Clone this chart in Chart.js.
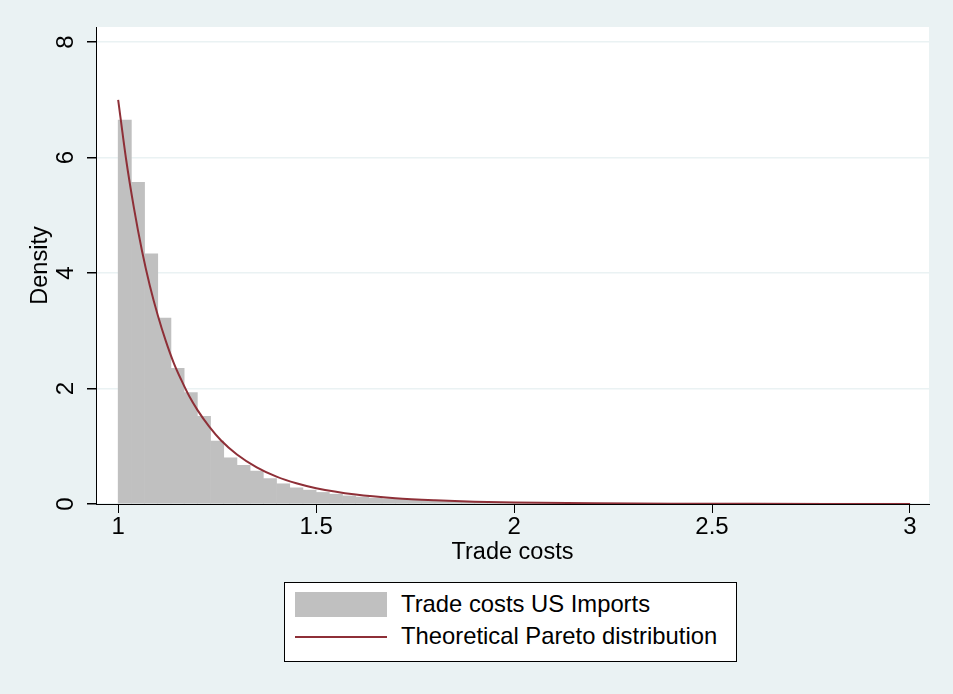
<!DOCTYPE html>
<html>
<head>
<meta charset="utf-8">
<script src="https://cdn.jsdelivr.net/npm/chart.js@4.4.1/dist/chart.umd.min.js"></script>
<style>
  html, body { margin: 0; padding: 0; background: #EAF2F3; overflow: hidden; }
  #wrap { position: relative; width: 953px; height: 694px; }
  canvas { position: absolute; left: 0; top: 0; }
  #legend { position: absolute; left: 284px; top: 582px; width: 451px; height: 78px;
            border: 1px solid #000; background: #fff;
            font-family: "Liberation Sans", Arial, Helvetica, sans-serif; font-size: 23.8px; color: #000; }
  .row { position: absolute; left: 0; height: 24px; line-height: 1; white-space: nowrap; }
  .sw { position: absolute; }
  .txt { position: absolute; left: 116px; top: 0; }
</style>
</head>
<body>
<div id="wrap">
  <canvas id="c" width="953" height="694"></canvas>
  <div id="legend"></div>
</div>
<script>
// ---- data ----
const binStart = 1.0;
const binWidth = 1 / 30;
const histDensity = [6.65, 5.57, 4.33, 3.22, 2.35, 1.93, 1.52, 1.09, 0.80, 0.67,
                     0.57, 0.44, 0.35, 0.28, 0.24, 0.20, 0.17, 0.14, 0.12, 0.10,
                     0.09, 0.08, 0.07, 0.06, 0.05, 0.045, 0.04, 0.035, 0.03, 0.027,
                     0.024, 0.021, 0.018, 0.016, 0.014, 0.012, 0.011, 0.010, 0.009, 0.008,
                     0.007, 0.006, 0.006, 0.005, 0.005, 0.004, 0.004, 0.003, 0.003, 0.003,
                     0.002, 0.002, 0.002, 0.002, 0.001, 0.001, 0.001, 0.001, 0.001, 0.001];
const curveX = [1.00, 1.02, 1.04, 1.06, 1.08, 1.10, 1.12, 1.14, 1.16, 1.18, 1.20, 1.23, 1.26, 1.30,
                1.35, 1.40, 1.45, 1.50, 1.60, 1.70, 1.80, 1.90, 2.00, 2.20, 2.40, 2.60, 2.80, 3.00];
const curveY = [7.00, 5.97, 5.12, 4.39, 3.78, 3.27, 2.83, 2.45, 2.14, 1.86, 1.63, 1.34, 1.10, 0.858,
                0.635, 0.474, 0.358, 0.273, 0.163, 0.100, 0.064, 0.041, 0.027, 0.013, 0.0064, 0.0034, 0.0019, 0.0011];
const xTicks = [1, 1.5, 2, 2.5, 3];
const yTicks = [0, 2, 4, 6, 8];
const seriesLabels = ['Trade costs US Imports', 'Theoretical Pareto distribution'];
const xTitle = 'Trade costs';
const yTitle = 'Density';

// ---- build ----
const histPoints = histDensity.map((v, i) => ({ x: binStart + (i + 0.5) * binWidth, y: v }));
const curvePoints = curveX.map((x, i) => ({ x: x, y: curveY[i] }));

const BG = '#EAF2F3';
const BAR = '#C0C0C0';
const LINE = '#8E2F37';
const FONT = '"Liberation Sans", Arial, Helvetica, sans-serif';

const stataPlugin = {
  id: 'stata',
  beforeDraw(chart) {
    const { ctx, chartArea: a } = chart;
    ctx.save();
    ctx.fillStyle = BG;
    ctx.fillRect(0, 0, chart.width, chart.height);
    ctx.fillStyle = '#fff';
    ctx.fillRect(a.left, a.top, a.right - a.left, a.bottom - a.top);
    ctx.restore();
  },
  afterDraw(chart) {
    const { ctx } = chart;
    const s = chart.scales.y;
    ctx.save();
    ctx.fillStyle = '#000';
    ctx.font = '24px ' + FONT;
    ctx.textAlign = 'center';
    ctx.textBaseline = 'alphabetic';
    s.ticks.forEach(t => {
      const y = s.getPixelForValue(t.value);
      ctx.save();
      ctx.translate(73, y);
      ctx.rotate(-Math.PI / 2);
      ctx.fillText(String(t.value), 0, 0);
      ctx.restore();
    });
    ctx.restore();
  }
};

new Chart(document.getElementById('c'), {
  type: 'bar',
  data: {
    datasets: [
      {
        type: 'line', label: seriesLabels[1], data: curvePoints,
        borderColor: LINE, borderWidth: 2, pointRadius: 0, fill: false,
        cubicInterpolationMode: 'monotone', order: 0
      },
      {
        type: 'bar', label: seriesLabels[0], data: histPoints,
        backgroundColor: BAR, borderWidth: 0,
        barPercentage: 1, categoryPercentage: 1, order: 1
      }
    ]
  },
  options: {
    responsive: false,
    animation: false,
    layout: { padding: { top: 27, right: 24, bottom: 127, left: 0 } },
    plugins: { legend: { display: false }, tooltip: { enabled: false } },
    scales: {
      x: {
        type: 'linear', min: 0.944, max: 3.048, offset: false,
        afterBuildTicks: s => { s.ticks = xTicks.map(v => ({ value: v })); },
        afterFit: s => { s.height = 63; },
        grid: { display: true, drawOnChartArea: false, drawTicks: true, tickLength: 9, tickColor: '#000', offset: false },
        border: { display: true, color: '#000', width: 1 },
        ticks: { color: '#000', font: { family: FONT, size: 24 }, padding: 0, maxRotation: 0, autoSkip: false,
                 callback: v => String(v) },
        title: { display: true, text: xTitle, color: '#000', font: { family: FONT, size: 23.5 }, padding: { top: 0, bottom: 0 } }
      },
      y: {
        type: 'linear', min: 0, max: 8.26,
        afterBuildTicks: s => { s.ticks = yTicks.map(v => ({ value: v })); },
        afterFit: s => { s.width = 96; },
        grid: { color: BG, lineWidth: 1.5, drawTicks: true, tickLength: 9, tickColor: '#000' },
        border: { display: true, color: '#000', width: 1 },
        ticks: { display: false },
        title: { display: true, text: yTitle, color: '#000', font: { family: FONT, size: 23.5 }, padding: { top: 26, bottom: 0 } }
      }
    }
  },
  plugins: [stataPlugin]
});

// ---- legend (HTML text) ----
const lg = document.getElementById('legend');
lg.innerHTML =
  '<div class="row" style="top:9px;width:100%">' +
    '<div class="sw" style="left:10px;top:0px;width:92px;height:25px;background:' + BAR + '"></div>' +
    '<div class="txt">' + seriesLabels[0] + '</div></div>' +
  '<div class="row" style="top:41px;width:100%">' +
    '<div class="sw" style="left:10px;top:12px;width:92px;height:2px;background:' + LINE + '"></div>' +
    '<div class="txt">' + seriesLabels[1] + '</div></div>';
</script>
</body>
</html>
